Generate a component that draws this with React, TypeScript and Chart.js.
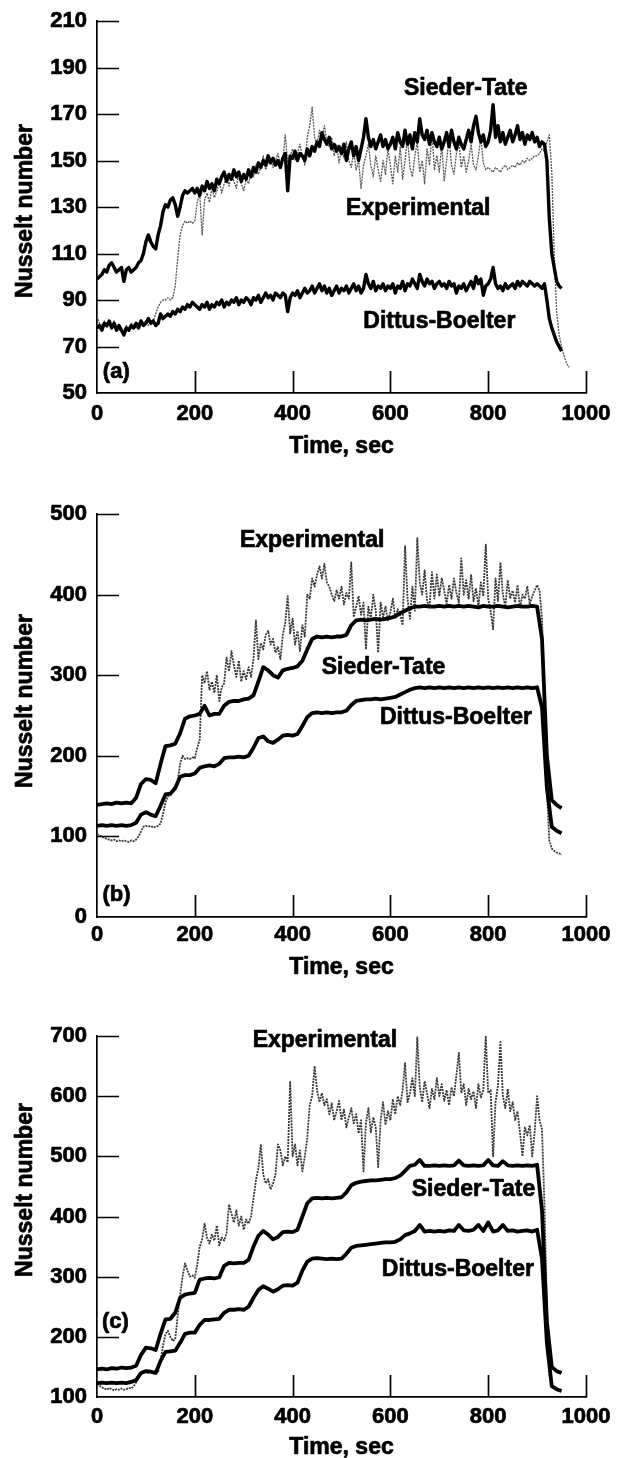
import React, { useEffect, useRef } from 'react';
import { Chart, registerables } from 'chart.js';

Chart.register(...registerables);

const FONT = "'Liberation Sans', Arial, Helvetica, sans-serif";

// sampling grids (seconds)
const TIME_5 = [
  0, 5, 10, 15, 20, 25, 30, 35, 40, 45,
  50, 55, 60, 65, 70, 75, 80, 85, 90, 95,
  100, 105, 110, 115, 120, 125, 130, 135, 140, 145,
  150, 155, 160, 165, 170, 175, 180, 185, 190, 195,
  200, 205, 210, 215, 220, 225, 230, 235, 240, 245,
  250, 255, 260, 265, 270, 275, 280, 285, 290, 295,
  300, 305, 310, 315, 320, 325, 330, 335, 340, 345,
  350, 355, 360, 365, 370, 375, 380, 385, 390, 395,
  400, 405, 410, 415, 420, 425, 430, 435, 440, 445,
  450, 455, 460, 465, 470, 475, 480, 485, 490, 495,
  500, 505, 510, 515, 520, 525, 530, 535, 540, 545,
  550, 555, 560, 565, 570, 575, 580, 585, 590, 595,
  600, 605, 610, 615, 620, 625, 630, 635, 640, 645,
  650, 655, 660, 665, 670, 675, 680, 685, 690, 695,
  700, 705, 710, 715, 720, 725, 730, 735, 740, 745,
  750, 755, 760, 765, 770, 775, 780, 785, 790, 795,
  800, 805, 810, 815, 820, 825, 830, 835, 840, 845,
  850, 855, 860, 865, 870, 875, 880, 885, 890, 895,
  900, 905, 910, 915, 920, 925, 930, 935, 940, 945,
  950, 955, 960, 965,
];

const TIME_10 = [
  0, 10, 20, 30, 40, 50, 60, 70, 80, 90,
  100, 110, 120, 130, 140, 150, 160, 170, 180, 190,
  200, 210, 220, 230, 240, 250, 260, 270, 280, 290,
  300, 310, 320, 330, 340, 350, 360, 370, 380, 390,
  400, 410, 420, 430, 440, 450, 460, 470, 480, 490,
  500, 510, 520, 530, 540, 550, 560, 570, 580, 590,
  600, 610, 620, 630, 640, 650, 660, 670, 680, 690,
  700, 710, 720, 730, 740, 750, 760, 770, 780, 790,
  800, 810, 820, 830, 840, 850, 860, 870, 880, 890,
  900, 910, 920, 930, 940, 950,
];

const X_TICKS = [0, 200, 400, 600, 800, 1000];
const A_Y_TICKS = [50, 70, 90, 110, 130, 150, 170, 190, 210];
const B_Y_TICKS = [0, 100, 200, 300, 400, 500];
const C_Y_TICKS = [100, 200, 300, 400, 500, 600, 700];

// ---------- Panel (a) ----------
const A_SIEDER_TATE = [
  99, 100, 101, 103, 102, 105, 106, 104, 102, 103,
  104, 98, 103, 104, 102, 103, 104, 106, 107, 110,
  115, 118, 115, 113, 112, 118, 122, 128, 131, 130,
  133, 134, 131, 126, 130, 135, 137, 136, 137, 138,
  136, 138, 135, 139, 137, 141, 138, 140, 137, 142,
  140, 143, 145, 141, 144, 142, 146, 143, 145, 141,
  144, 142, 146, 143, 147, 145, 149, 147, 150, 148,
  152, 149, 151, 148, 150, 147, 151, 153, 137, 152,
  151, 154, 150, 153, 152, 150, 155, 152, 156, 154,
  158, 156, 162, 159, 157, 160, 155, 157, 154, 156,
  153, 157, 150, 155, 158, 152, 156, 150, 155, 160,
  168, 160, 156, 159, 155, 158, 161, 156, 159, 155,
  157, 160, 155, 162, 158, 156, 163, 157, 161, 155,
  162, 158, 168, 161, 159, 163, 157, 162, 158, 156,
  160, 155, 158, 162, 156, 163, 158, 155, 160, 157,
  155, 159, 163, 158, 165, 169, 162, 158, 161, 156,
  158, 163, 174, 160, 165, 158, 162, 157, 160, 163,
  158, 161, 165, 159, 162, 157, 161, 159, 162, 158,
  160, 156, 158, 157, 150, 125, 110, 104, 98, 96,
  95,
];

const A_EXPERIMENTAL = [
  83, 80, 79, 81, 78, 80, 79, 81, 78, 77,
  78, 76, 79, 78, 80, 79, 78, 80, 81, 80,
  81, 79, 80, 81, 84, 87, 89, 90, 90, 91,
  90, 91, 96, 108, 118, 122, 124, 123, 124, 123,
  124, 132, 136, 118, 133, 136, 132, 138, 134, 137,
  141, 136, 140, 143, 139, 144, 141, 138, 145, 140,
  137, 142, 140, 145, 143, 148, 144, 147, 152, 146,
  149, 151, 147, 150, 153, 148, 150, 161, 149, 152,
  155, 150, 153, 157, 152, 148, 160, 165, 173, 160,
  157, 163, 159, 165, 158, 156, 160, 152, 157, 149,
  155, 151, 158, 150, 147, 154, 146, 150, 138, 148,
  152, 157, 148, 143, 152, 146, 141, 150, 144, 155,
  148, 140, 152, 145, 156, 142, 150, 160, 147, 143,
  152, 158, 145, 150, 140, 155, 148, 162, 146, 152,
  145, 157, 141, 150, 160, 148, 144, 153, 158, 147,
  152, 145, 150, 157, 148, 146, 152, 160, 149, 146,
  147, 146, 145, 147, 146, 145, 147, 148, 146, 147,
  148, 147, 149, 148, 150, 149, 151, 150, 151, 152,
  152, 153, 155, 154, 158, 161, 145, 110, 85, 75,
  70, 66, 63, 61,
];

const A_DITTUS_BOELTER = [
  78, 79, 77, 80, 79, 81, 78, 80, 77, 79,
  77, 75, 78, 77, 79, 78, 80, 78, 81, 79,
  80, 82, 80, 81, 79, 80, 84, 82, 83, 84,
  83, 85, 84, 86, 85, 87, 86, 88, 87, 89,
  88, 87, 86, 88, 87, 89, 86, 88, 87, 89,
  88, 90, 87, 89, 88, 90, 89, 91, 88, 90,
  89, 91, 90, 88, 91, 90, 92, 89, 91, 93,
  91, 92, 90, 93, 92, 91, 93, 92, 85, 91,
  93, 92, 94, 91, 93, 95, 93, 94, 96, 93,
  95, 97, 94, 96, 93, 95, 92, 94, 96, 93,
  95, 94, 96, 93, 95, 97, 94, 96, 93, 95,
  101, 97, 95, 98, 94, 96, 95, 97, 94, 96,
  95, 97, 93, 96, 95, 98, 94, 97, 96, 99,
  97, 95, 101, 98, 96, 99, 97, 98, 95, 97,
  98, 96, 97, 95, 98, 96, 97, 93, 96, 95,
  97, 94, 96, 98, 95, 100, 97, 99, 92, 96,
  97, 99, 104, 97, 95, 96, 94, 97, 95, 96,
  97, 95, 98, 96, 98, 97, 96, 98, 97, 96,
  97, 96, 95, 97, 90, 82, 78, 75, 72, 70,
  68,
];

// ---------- Panel (b) ----------
const B_SIEDER_TATE = [
  139, 140, 141, 140, 142, 141, 142, 141, 148, 165,
  171, 170, 166, 190, 212, 213, 215, 228, 246, 249,
  250, 252, 262, 250, 252, 252, 262, 267, 268, 268,
  270, 271, 275, 292, 310, 306, 300, 297, 306, 308,
  309, 311, 318, 332, 345, 348, 347, 348, 347, 348,
  348, 350, 362, 368, 369, 368, 369, 370, 369, 370,
  371, 373, 377, 380, 383, 385, 385, 386, 385, 385,
  386, 385, 386, 385, 386, 385, 386, 385, 384, 386,
  385, 385, 386, 385, 384, 385, 386, 385, 385, 386,
  385, 345, 200, 145, 139, 135,
];

const B_DITTUS_BOELTER = [
  113, 114, 113, 114, 113, 114, 113, 114, 117, 127,
  130, 127, 125, 138, 152, 153, 160, 174, 176, 176,
  178, 185, 187, 188, 187, 190, 197, 198, 198, 199,
  198, 200, 210, 222, 224, 218, 216, 220, 225, 226,
  225, 227, 237, 248, 253, 254, 253, 254, 253, 254,
  254, 256, 263, 268, 269, 270, 270, 271, 270, 271,
  272, 273, 276, 279, 282, 284, 285, 284, 285, 284,
  285, 284, 285, 284, 285, 284, 285, 284, 285, 284,
  285, 284, 285, 284, 285, 284, 285, 284, 285, 284,
  285, 260, 160, 112, 107, 104,
];

const B_EXPERIMENTAL = [
  103, 101, 100, 98, 97, 96, 95, 96, 94, 95,
  94, 95, 94, 93, 95, 94, 96, 100, 106, 112,
  113, 112, 113, 111, 112, 113, 116, 128, 142, 150,
  151, 155, 158, 168, 190, 200, 196, 197, 196, 198,
  197, 210, 220, 300, 290, 305, 282, 292, 278, 300,
  268, 285, 290, 322, 305, 330, 312, 298, 318, 292,
  305, 295, 310, 298, 320, 368, 320, 340, 332, 350,
  355, 338, 345, 328, 335, 320, 350, 365, 398, 352,
  370, 338, 355, 330, 362, 348, 400, 395, 420, 410,
  425, 435, 420, 438, 415, 410, 400, 392, 405, 395,
  410, 388, 402, 395, 440, 372, 385, 398, 375, 390,
  332, 385, 370, 400, 380, 328, 390, 372, 385, 368,
  378, 395, 370, 382, 375, 362, 460, 395, 370, 410,
  380, 470, 415, 400, 430, 392, 385, 428, 395, 425,
  398, 420, 405, 388, 412, 395, 420, 402, 390, 445,
  400, 418, 395, 425, 392, 408, 385, 415, 398, 462,
  395, 380, 357, 420, 392, 440, 400, 385, 418, 395,
  405, 390, 412, 383, 400, 395, 410, 388, 398, 405,
  412, 405, 370, 280, 160, 95, 85, 82, 80, 79,
  77,
];

// ---------- Panel (c) ----------
const C_SIEDER_TATE = [
  146, 147, 146, 148, 147, 149, 148, 149, 152, 170,
  182, 181, 178, 205, 229, 230, 240, 265, 270, 272,
  273, 295, 297, 298, 297, 299, 318, 323, 322, 323,
  323, 328, 350, 368, 376, 370, 362, 366, 374, 375,
  374, 378, 400, 422, 430, 431, 430, 431, 430, 431,
  432, 440, 452, 456, 458, 459, 460, 460, 461, 462,
  462, 464, 468, 476, 484, 486, 494, 484, 484, 485,
  484, 485, 484, 485, 493, 485, 484, 485, 484, 485,
  494, 485, 484, 492, 485, 484, 485, 484, 485, 484,
  486, 410, 225, 150, 143, 140,
];

const C_DITTUS_BOELTER = [
  123, 124, 123, 124, 123, 124, 123, 125, 128, 140,
  143, 142, 140, 160, 175, 176, 177, 190, 205, 207,
  207, 220, 228, 228, 229, 230, 240, 245, 245, 246,
  245, 250, 265, 278, 284, 280, 275, 279, 285, 286,
  285, 290, 310, 325, 330, 331, 330, 329, 330, 329,
  330, 338, 348, 351, 352, 353, 354, 355, 356, 357,
  357, 358, 362, 369, 372, 376, 386, 375, 376, 375,
  376, 375, 377, 376, 386, 377, 376, 378, 386, 376,
  390, 375, 377, 386, 376, 377, 375, 376, 377, 375,
  378, 330, 190, 118, 113, 110,
];

const C_EXPERIMENTAL = [
  122, 119, 116, 114, 112, 115, 113, 111, 113, 112,
  114, 112, 113, 115, 114, 118, 124, 133, 139, 141,
  142, 140, 141, 139, 140, 142, 160, 185, 205, 210,
  200, 193, 196, 235, 270, 300, 322, 310, 300, 302,
  298, 320, 350, 362, 388, 365, 355, 370, 360, 385,
  352, 365, 360, 372, 420, 405, 390, 410, 385, 400,
  378, 395, 388, 400, 430, 460, 480, 520, 470, 455,
  462, 445, 455, 470, 520, 510, 485, 500, 490, 625,
  500, 520, 485, 510, 475, 500, 530, 585, 600, 650,
  610, 590, 605, 585, 595, 570, 588, 560, 575, 592,
  560, 578, 548, 565, 580, 555, 570, 538, 560, 475,
  555, 580, 540, 565, 548, 482, 560, 590, 552, 575,
  560, 595, 570, 600, 585, 610, 655, 590, 605, 630,
  600, 698, 615, 590, 625, 605, 580, 612, 595, 630,
  600, 620, 592, 610, 585, 615, 600, 635, 672, 605,
  620, 585, 612, 595, 608, 580, 620, 598, 610, 700,
  605, 610, 500, 590, 618, 690, 600, 580, 612, 575,
  590, 560, 575, 540, 500, 548, 535, 552, 500, 540,
  600, 560, 545, 420, 250, 140, 118, 114, 112, 111,
  110,
];

type Series = { name: string; time: number[]; values: number[]; exp: boolean };
type Label = { text: string; x: number; y: number; align: 'center' | 'left'; size: number };
type PanelCfg = {
  top: number;
  height: number;
  padTop: number;
  padBottom: number;
  xAxisH: number;
  xTickPad: number;
  xTitleOffset: number;
  yTitleY: number;
  yMin: number;
  yMax: number;
  yTicks: number[];
  thickWidth: number;
  expWidth: number;
  expColor: string;
  series: Series[];
  labels: Label[];
};

const PANELS: PanelCfg[] = [
  {
    top: 0, height: 470, padTop: 21, padBottom: 6, xAxisH: 71, xTickPad: 8, xTitleOffset: 54, yTitleY: 211,
    yMin: 50, yMax: 210, yTicks: A_Y_TICKS,
    thickWidth: 3.4, expWidth: 1.3, expColor: '#555555',
    series: [
      { name: 'Sieder-Tate', time: TIME_5, values: A_SIEDER_TATE, exp: false },
      { name: 'Dittus-Boelter', time: TIME_5, values: A_DITTUS_BOELTER, exp: false },
      { name: 'Experimental', time: TIME_5, values: A_EXPERIMENTAL, exp: true },
    ],
    labels: [
      { text: 'Sieder-Tate', x: 754, y: 181, align: 'center', size: 23 },
      { text: 'Experimental', x: 657, y: 129.5, align: 'center', size: 23 },
      { text: 'Dittus-Boelter', x: 700, y: 80.8, align: 'center', size: 23 },
      { text: '(a)', x: 12, y: 59, align: 'left', size: 22 },
    ],
  },
  {
    top: 470, height: 520, padTop: 44, padBottom: 5, xAxisH: 68, xTickPad: 5, xTitleOffset: 51, yTitleY: 231,
    yMin: 0, yMax: 500, yTicks: B_Y_TICKS,
    thickWidth: 3.8, expWidth: 1.8, expColor: '#383838',
    series: [
      { name: 'Sieder-Tate', time: TIME_10, values: B_SIEDER_TATE, exp: false },
      { name: 'Dittus-Boelter', time: TIME_10, values: B_DITTUS_BOELTER, exp: false },
      { name: 'Experimental', time: TIME_5, values: B_EXPERIMENTAL, exp: true },
    ],
    labels: [
      { text: 'Experimental', x: 440, y: 467, align: 'center', size: 23 },
      { text: 'Sieder-Tate', x: 586, y: 309, align: 'center', size: 23 },
      { text: 'Dittus-Boelter', x: 734, y: 247, align: 'center', size: 23 },
      { text: '(b)', x: 11, y: 27, align: 'left', size: 22 },
    ],
  },
  {
    top: 990, height: 472, padTop: 46, padBottom: 1, xAxisH: 64, xTickPad: 7, xTitleOffset: 51, yTitleY: 200,
    yMin: 100, yMax: 700, yTicks: C_Y_TICKS,
    thickWidth: 3.8, expWidth: 1.8, expColor: '#383838',
    series: [
      { name: 'Sieder-Tate', time: TIME_10, values: C_SIEDER_TATE, exp: false },
      { name: 'Dittus-Boelter', time: TIME_10, values: C_DITTUS_BOELTER, exp: false },
      { name: 'Experimental', time: TIME_5, values: C_EXPERIMENTAL, exp: true },
    ],
    labels: [
      { text: 'Experimental', x: 466, y: 692, align: 'center', size: 23 },
      { text: 'Sieder-Tate', x: 770, y: 445, align: 'center', size: 23 },
      { text: 'Dittus-Boelter', x: 738, y: 312, align: 'center', size: 23 },
      { text: '(c)', x: 10, y: 225, align: 'left', size: 22 },
    ],
  },
];

function heavyText(ctx: CanvasRenderingContext2D, text: string, x: number, y: number) {
  ctx.strokeText(text, x, y);
  ctx.fillText(text, x, y);
}

function Panel({ cfg }: { cfg: PanelCfg }) {
  const ref = useRef<HTMLCanvasElement | null>(null);

  useEffect(() => {
    const canvas = ref.current;
    if (!canvas) return;

    const decor = {
      id: 'decor',
      afterDraw(chart: any) {
        const { ctx, chartArea } = chart;
        const xs = chart.scales.x;
        const ys = chart.scales.y;
        ctx.save();
        // inward tick marks
        ctx.strokeStyle = '#000';
        ctx.lineWidth = 1.7;
        ctx.beginPath();
        cfg.yTicks.forEach((v) => {
          if (v === cfg.yMin) return;
          const py = Math.round(ys.getPixelForValue(v)) + 0.5;
          ctx.moveTo(chartArea.left, py);
          ctx.lineTo(chartArea.left + 22, py);
        });
        X_TICKS.forEach((v) => {
          if (v === 0) return;
          const px = Math.round(xs.getPixelForValue(v)) + 0.5;
          ctx.moveTo(px, chartArea.bottom);
          ctx.lineTo(px, chartArea.bottom - 22);
        });
        ctx.stroke();

        ctx.fillStyle = '#000';
        ctx.strokeStyle = '#000';
        ctx.lineWidth = 0.7;
        ctx.lineJoin = 'round';

        // axis titles
        ctx.font = `bold 23px ${FONT}`;
        ctx.textAlign = 'center';
        ctx.textBaseline = 'middle';
        heavyText(ctx, 'Time, sec', (chartArea.left + chartArea.right) / 2, chartArea.bottom + cfg.xTitleOffset);
        ctx.save();
        ctx.translate(26, cfg.yTitleY);
        ctx.rotate(-Math.PI / 2);
        heavyText(ctx, 'Nusselt number', 0, 0);
        ctx.restore();

        // curve labels and panel tag
        cfg.labels.forEach((l) => {
          ctx.font = `bold ${l.size}px ${FONT}`;
          ctx.textAlign = l.align;
          ctx.textBaseline = 'middle';
          heavyText(ctx, l.text, xs.getPixelForValue(l.x), ys.getPixelForValue(l.y));
        });
        ctx.restore();
      },
    };

    const tickFont = { family: FONT, size: 22, weight: 'bold' as const };

    const chart = new Chart(canvas, {
      type: 'line',
      data: {
        datasets: cfg.series.map((s) => ({
          label: s.name,
          data: s.values.map((v, i) => ({ x: s.time[i], y: v })),
          borderColor: s.exp ? cfg.expColor : '#000000',
          borderWidth: s.exp ? cfg.expWidth : cfg.thickWidth,
          borderDash: s.exp ? [2, 1] : [],
          pointRadius: 0,
          tension: 0,
          fill: false,
          borderJoinStyle: 'round' as const,
          borderCapStyle: 'butt' as const,
        })),
      },
      options: {
        responsive: false,
        animation: false,
        layout: { padding: { top: cfg.padTop, bottom: cfg.padBottom, left: 0, right: 33 } },
        plugins: {
          legend: { display: false },
          tooltip: { enabled: false },
          title: { display: false },
        },
        scales: {
          x: {
            type: 'linear',
            min: 0,
            max: 1000,
            afterBuildTicks: (s: any) => {
              s.ticks = X_TICKS.map((v) => ({ value: v }));
            },
            afterFit: (s: any) => {
              s.height = cfg.xAxisH;
              s.paddingLeft = 0;
              s.paddingRight = 0;
              s.paddingTop = 0;
              s.paddingBottom = 0;
            },
            grid: { display: false, drawTicks: false },
            border: { display: true, color: '#000', width: 1.7 },
            ticks: {
              color: '#000',
              font: tickFont,
              padding: cfg.xTickPad,
              maxRotation: 0,
              autoSkip: false,
              textStrokeColor: '#000',
              textStrokeWidth: 0.7,
              callback: (v: any) => String(v),
            },
            title: { display: false },
          },
          y: {
            type: 'linear',
            min: cfg.yMin,
            max: cfg.yMax,
            afterBuildTicks: (s: any) => {
              s.ticks = cfg.yTicks.map((v) => ({ value: v }));
            },
            afterFit: (s: any) => {
              s.width = 97;
              s.paddingLeft = 0;
              s.paddingRight = 0;
              s.paddingTop = 0;
              s.paddingBottom = 0;
            },
            grid: { display: false, drawTicks: false },
            border: { display: true, color: '#000', width: 1.7 },
            ticks: {
              color: '#000',
              font: tickFont,
              padding: 10,
              autoSkip: false,
              textStrokeColor: '#000',
              textStrokeWidth: 0.7,
              callback: (v: any) => String(v),
            },
          },
        },
      },
      plugins: [decor],
    });

    return () => chart.destroy();
  }, [cfg]);

  return (
    <canvas
      ref={ref}
      width={619}
      height={cfg.height}
      style={{ position: 'absolute', left: 0, top: cfg.top, width: 619, height: cfg.height, display: 'block' }}
    />
  );
}

export default function App() {
  return (
    <div
      style={{
        position: 'absolute',
        left: 0,
        top: 0,
        width: 619,
        height: 1458,
        overflow: 'hidden',
        background: '#fff',
      }}
    >
      {PANELS.map((p, i) => (
        <Panel key={i} cfg={p} />
      ))}
    </div>
  );
}
